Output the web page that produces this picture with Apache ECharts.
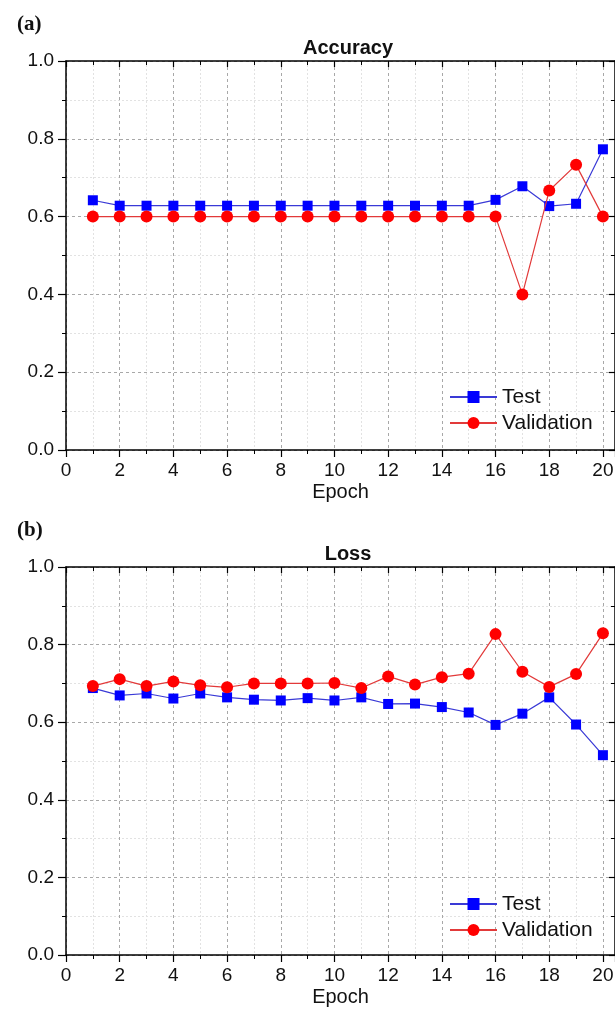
<!DOCTYPE html>
<html>
<head>
<meta charset="utf-8">
<script src="https://cdn.jsdelivr.net/npm/echarts@6/dist/echarts.min.js"></script>
<style>
  html, body { margin: 0; padding: 0; background: #fff; }
  #chart { width: 615px; height: 1016px; }
</style>
</head>
<body>
<div id="chart"></div>
<script>
// Training history per epoch
const epochs = [1, 2, 3, 4, 5, 6, 7, 8, 9, 10, 11, 12, 13, 14, 15, 16, 17, 18, 19, 20];

const accuracyTest = [0.642, 0.628, 0.628, 0.628, 0.628, 0.628, 0.628, 0.628, 0.628, 0.628,
                      0.628, 0.628, 0.628, 0.628, 0.628, 0.643, 0.678, 0.627, 0.633, 0.773];
const accuracyValidation = [0.6, 0.6, 0.6, 0.6, 0.6, 0.6, 0.6, 0.6, 0.6, 0.6,
                            0.6, 0.6, 0.6, 0.6, 0.6, 0.6, 0.4, 0.667, 0.733, 0.6];

const lossTest = [0.688, 0.669, 0.674, 0.661, 0.674, 0.664, 0.658, 0.656, 0.662, 0.656,
                  0.664, 0.647, 0.648, 0.639, 0.625, 0.593, 0.622, 0.664, 0.594, 0.515];
const lossValidation = [0.693, 0.711, 0.693, 0.705, 0.695, 0.690, 0.700, 0.700, 0.700, 0.701,
                        0.688, 0.718, 0.697, 0.716, 0.725, 0.827, 0.730, 0.691, 0.724, 0.829];

const panelTitles = ['Accuracy', 'Loss'];
const panelTags = ['(a)', '(b)'];
const seriesNames = ['Test', 'Validation'];
const xName = 'Epoch';

const FONT = '"Liberation Sans", Arial, sans-serif';
const X_MAX = 20.45;

const pairs = (ys) => epochs.map((e, i) => [e, ys[i]]);

// panel geometry
const panels = [
  { top: 61, height: 389, legendTop: 385 },
  { top: 567, height: 388, legendTop: 892 }
];
const GRID_LEFT = 66;

const majorGrid = { show: true, lineStyle: { color: '#a8a8a8', width: 1, type: [3, 3] } };
const minorGrid = { show: true, lineStyle: { color: '#e2e2e2', width: 1, type: [2, 2] } };
const axisLine = { show: true, onZero: false, lineStyle: { color: '#000', width: 1.5 } };

const grid = [], xAxis = [], yAxis = [], series = [], legend = [], title = [];

panels.forEach((p, k) => {
  grid.push({ left: GRID_LEFT, right: 0, top: p.top, height: p.height, outerBoundsMode: 'none' });

  // bottom x axis with labels
  xAxis.push({
    type: 'value', gridIndex: k, min: 0, max: X_MAX, interval: 2,
    position: 'bottom',
    name: xName, nameLocation: 'middle', nameGap: 32,
    nameTextStyle: { fontFamily: FONT, fontSize: 20, color: '#111' },
    axisLine: axisLine,
    axisTick: { show: true, inside: false, length: 7, lineStyle: { color: '#000', width: 1.2 } },
    minorTick: { show: true, splitNumber: 2, length: 4, lineStyle: { color: '#000', width: 1 } },
    axisLabel: {
      fontFamily: FONT, fontSize: 19, color: '#111', margin: 11,
      showMaxLabel: false,
      formatter: (v) => (Number.isInteger(v) ? String(v) : '')
    },
    splitLine: majorGrid,
    minorSplitLine: minorGrid
  });
  // top mirror axis
  xAxis.push({
    type: 'value', gridIndex: k, min: 0, max: X_MAX, interval: 2,
    position: 'top',
    axisLine: axisLine,
    axisTick: { show: true, inside: true, length: 6, lineStyle: { color: '#000', width: 1.2 } },
    minorTick: { show: true, splitNumber: 2, length: 4, lineStyle: { color: '#000', width: 1 } },
    axisLabel: { show: false },
    splitLine: { show: false }
  });

  // left y axis with labels
  yAxis.push({
    type: 'value', gridIndex: k, min: 0, max: 1, interval: 0.2,
    position: 'left',
    axisLine: axisLine,
    axisTick: { show: true, inside: false, length: 8, lineStyle: { color: '#000', width: 1.2 } },
    minorTick: { show: true, splitNumber: 2, length: 4, lineStyle: { color: '#000', width: 1 } },
    axisLabel: {
      fontFamily: FONT, fontSize: 19, color: '#111', margin: 12,
      formatter: (v) => v.toFixed(1)
    },
    splitLine: majorGrid,
    minorSplitLine: minorGrid
  });
  // right mirror axis
  yAxis.push({
    type: 'value', gridIndex: k, min: 0, max: 1, interval: 0.2,
    position: 'right',
    axisLine: axisLine,
    axisTick: { show: true, inside: true, length: 6, lineStyle: { color: '#000', width: 1.2 } },
    minorTick: { show: true, splitNumber: 2, length: 4, lineStyle: { color: '#000', width: 1 } },
    axisLabel: { show: false },
    splitLine: { show: false }
  });

  title.push({
    text: panelTitles[k], left: 343, top: p.top - 28, textAlign: 'center',
    textStyle: { fontFamily: FONT, fontSize: 20, fontWeight: 'bold', color: '#111' }
  });
  title.push({
    text: panelTags[k], left: 12, top: p.top - 52,
    textStyle: { fontFamily: '"Liberation Serif", "DejaVu Serif", serif', fontSize: 21, fontWeight: 'bold', color: '#111' }
  });

  legend.push({
    orient: 'vertical', left: 449, top: p.legendTop,
    itemWidth: 47, itemHeight: 15, itemGap: 2,
    padding: 0,
    data: seriesNames,
    textStyle: { fontFamily: FONT, fontSize: 21, color: '#111', lineHeight: 24 }
  });
});

const datasets = [
  [accuracyTest, accuracyValidation],
  [lossTest, lossValidation]
];

datasets.forEach((pair, k) => {
  series.push({
    name: seriesNames[0], type: 'line',
    xAxisIndex: 2 * k, yAxisIndex: 2 * k,
    data: pairs(pair[0]),
    symbol: 'rect', symbolSize: 10,
    itemStyle: { color: '#0000ff' },
    lineStyle: { color: '#3a3ad6', width: 1.2 },
    animation: false, z: 3
  });
  series.push({
    name: seriesNames[1], type: 'line',
    xAxisIndex: 2 * k, yAxisIndex: 2 * k,
    data: pairs(pair[1]),
    symbol: 'circle', symbolSize: 12,
    itemStyle: { color: '#ff0000' },
    lineStyle: { color: '#e23a3a', width: 1.2 },
    animation: false, z: 4
  });
});

const chart = echarts.init(document.getElementById('chart'), null, { renderer: 'canvas' });
chart.setOption({
  backgroundColor: '#fff',
  animation: false,
  title, grid, xAxis, yAxis, legend, series
});
</script>
</body>
</html>
